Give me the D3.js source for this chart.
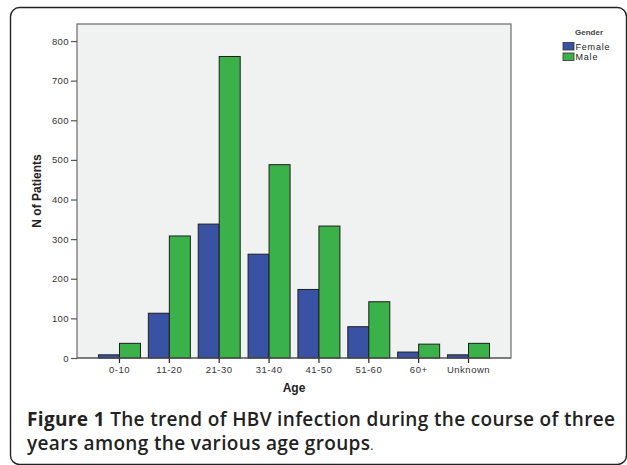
<!DOCTYPE html>
<html>
<head>
<meta charset="utf-8">
<script src="https://cdn.jsdelivr.net/npm/d3@7"></script>
<style>
  body { margin: 0; background: #fff; }
  svg { display: block; }
</style>
</head>
<body>
<svg id="chart"></svg>
<script>
// data
const ageGroups = ["0-10", "11-20", "21-30", "31-40", "41-50", "51-60", "60+", "Unknown"];
const genders = ["Female", "Male"];
const femaleCounts = [8, 113, 338, 262, 173, 79, 15, 8];
const maleCounts = [37, 308, 761, 488, 333, 142, 35, 37];
const yTicks = [0, 100, 200, 300, 400, 500, 600, 700, 800];
const colors = { Female: "#3a52a3", Male: "#3bb14a" };

const width = 627, height = 465;
const plot = { left: 77, top: 24, right: 511, bottom: 358 };
const chartFont = "'Liberation Sans', Arial, sans-serif";

const svg = d3.select("#chart")
    .attr("width", width)
    .attr("height", height);

// outer frame of the figure
svg.append("rect")
    .attr("x", 10.5).attr("y", 7.5)
    .attr("width", 616).attr("height", 457)
    .attr("rx", 9).attr("ry", 9)
    .style("fill", "none")
    .style("stroke", "#222")
    .style("stroke-width", 1.4);

const rows = ageGroups.map((age, i) => ({
    age: age,
    values: [
        { gender: "Female", value: femaleCounts[i] },
        { gender: "Male", value: maleCounts[i] }
    ]
}));

const x0 = d3.scaleBand()
    .domain(ageGroups)
    .range([plot.left, plot.right])
    .paddingInner(0.158)
    .paddingOuter(0.431);

const x1 = d3.scaleBand()
    .domain(genders)
    .range([0, x0.bandwidth()]);

const y = d3.scaleLinear()
    .domain([0, 843])
    .range([plot.bottom, plot.top]);

// plot background
svg.append("rect")
    .attr("x", plot.left).attr("y", plot.top)
    .attr("width", plot.right - plot.left)
    .attr("height", plot.bottom - plot.top)
    .style("fill", "#f0f1f1")
    .style("stroke", "#6b6b6b")
    .style("stroke-width", 1.2);

// bars
const groups = svg.selectAll(".group")
    .data(rows)
    .enter()
    .append("g")
    .attr("class", "group")
    .attr("transform", d => `translate(${x0(d.age)},0)`);

groups.selectAll("rect")
    .data(d => d.values)
    .enter()
    .append("rect")
    .attr("x", d => x1(d.gender))
    .attr("y", d => y(d.value))
    .attr("width", x1.bandwidth())
    .attr("height", d => y(0) - y(d.value))
    .style("fill", d => colors[d.gender])
    .style("stroke", "#1e1e1e")
    .style("stroke-width", 1);

// y axis
const yAxis = svg.append("g")
    .attr("transform", `translate(${plot.left},0)`)
    .call(d3.axisLeft(y).tickValues(yTicks).tickSize(6).tickPadding(2));
yAxis.select(".domain").remove();
yAxis.selectAll("line").style("stroke", "#555").style("stroke-width", 1.2);
yAxis.selectAll("text")
    .style("font-family", chartFont)
    .style("font-size", "9.5px")
    .style("letter-spacing", "0.4px")
    .style("fill", "#333");

// x axis
const xAxis = svg.append("g")
    .attr("transform", `translate(0,${plot.bottom})`)
    .call(d3.axisBottom(x0).tickSize(5).tickPadding(3));
xAxis.select(".domain").remove();
xAxis.selectAll("line").style("stroke", "#222").style("stroke-width", 1.2);
xAxis.selectAll("text")
    .style("font-family", chartFont)
    .style("font-size", "9.5px")
    .style("letter-spacing", "0.5px")
    .style("fill", "#333");

// baseline
svg.append("line")
    .attr("x1", plot.left).attr("x2", plot.right)
    .attr("y1", y(0)).attr("y2", y(0))
    .style("stroke", "#555")
    .style("stroke-width", 1.2);

// axis titles
svg.append("text")
    .attr("transform", `translate(41,${(plot.top + plot.bottom) / 2}) rotate(-90)`)
    .attr("text-anchor", "middle")
    .style("font-family", "'Liberation Sans Narrow', 'Liberation Sans', Arial, sans-serif")
    .style("font-size", "12px")
    .style("font-weight", "bold")
    .style("fill", "#222")
    .text("N of Patients");

svg.append("text")
    .attr("x", 294)
    .attr("y", 392)
    .attr("text-anchor", "middle")
    .style("font-family", chartFont)
    .style("font-size", "12px")
    .style("font-weight", "bold")
    .style("fill", "#222")
    .text("Age");

// legend
const legend = svg.append("g").attr("transform", "translate(563,0)");
legend.append("text")
    .attr("x", 26).attr("y", 35)
    .attr("text-anchor", "middle")
    .style("font-family", chartFont)
    .style("font-size", "8px")
    .style("font-weight", "bold")
    .style("fill", "#444")
    .text("Gender");

const items = legend.selectAll(".item")
    .data(genders)
    .enter()
    .append("g")
    .attr("class", "item")
    .attr("transform", (d, i) => `translate(0,${42.5 + i * 10.5})`);
items.append("rect")
    .attr("width", 11).attr("height", 7.5)
    .style("fill", d => colors[d])
    .style("stroke", "#333")
    .style("stroke-width", 0.8);
items.append("text")
    .attr("x", 12.5).attr("y", 7.3)
    .style("font-family", chartFont)
    .style("font-size", "9px")
    .style("letter-spacing", "0.8px")
    .style("fill", "#222")
    .text(d => d);

// caption
const cap = svg.append("g")
    .style("font-family", "'Open Sans', 'Noto Sans', sans-serif")
    .style("fill", "#222");
const line1 = cap.append("text")
    .attr("x", 27).attr("y", 426)
    .attr("textLength", 588)
    .attr("lengthAdjust", "spacing")
    .style("font-size", "19px")
    .style("font-weight", 600);
line1.append("tspan").style("font-weight", 700).text("Figure 1");
line1.append("tspan").text(" The trend of HBV infection during the course of three");

const line2 = cap.append("text")
    .attr("x", 27).attr("y", 450)
    .style("font-size", "19px")
    .style("font-weight", 600);
line2.append("tspan")
    .attr("textLength", 343)
    .attr("lengthAdjust", "spacing")
    .text("years among the various age groups");
line2.append("tspan").style("font-size", "12px").style("font-weight", 400).text(".");
</script>
</body>
</html>
